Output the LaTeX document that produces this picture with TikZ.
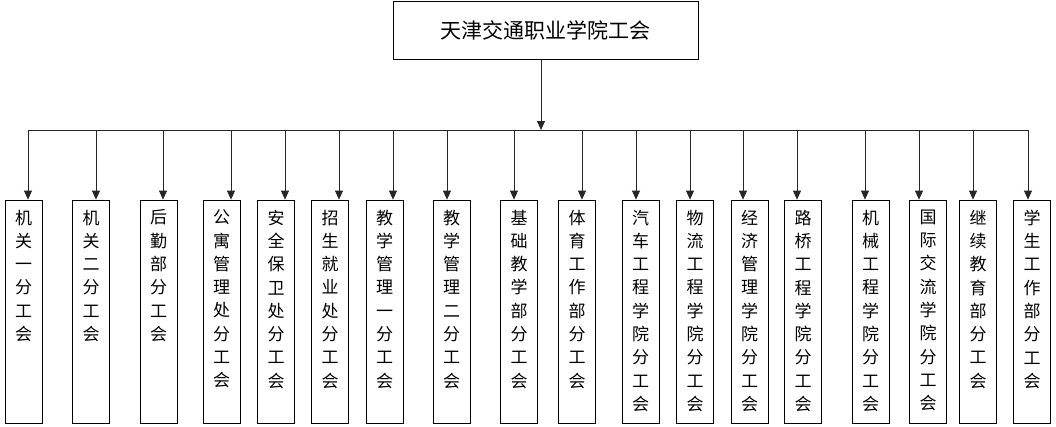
\documentclass[tikz,border=0pt]{standalone}
\usepackage{fontspec}
\setmainfont{Noto Sans CJK SC}
\usetikzlibrary{positioning, arrows.meta}
\tikzset{
  x=1pt, y=-1pt,
  >={Triangle[width=8pt,length=9pt]},
  head/.style={draw, thick, minimum width=305pt, minimum height=58pt, inner sep=0pt,
    font=\fontsize{21}{25}\selectfont},
  unit/.style={draw, thick, minimum width=37pt, minimum height=223pt, inner sep=0pt},
  unit text/.style={anchor=north, align=center, inner sep=0pt, yshift=-10pt,
    font=\fontsize{17}{23.3}\selectfont},
  link/.style={gray!30!black, thick},
}

\begin{document}
\begin{tikzpicture}
		\useasboundingbox (0,0) rectangle (1056,426);

		% top
		\node[head] (top) at (545.5,30) {天津交通职业学院工会};

		% units
		\node[unit, label={[unit text]north:{机\\关\\一\\分\\工\\会}}] (u1) at (23.5,311.5) {};
		\node[unit, label={[unit text]north:{机\\关\\二\\分\\工\\会}}] (u2) at (91,311.5) {};
		\node[unit, label={[unit text]north:{后\\勤\\部\\分\\工\\会}}] (u3) at (158.5,311.5) {};
		\node[unit, label={[unit text]north:{公\\寓\\管\\理\\处\\分\\工\\会}}] (u4) at (221.5,311.5) {};
		\node[unit, label={[unit text]north:{安\\全\\保\\卫\\处\\分\\工\\会}}] (u5) at (276,311.5) {};
		\node[unit, label={[unit text]north:{招\\生\\就\\业\\处\\分\\工\\会}}] (u6) at (330,311.5) {};
		\node[unit, label={[unit text]north:{教\\学\\管\\理\\一\\分\\工\\会}}] (u7) at (384.5,311.5) {};
		\node[unit, label={[unit text]north:{教\\学\\管\\理\\二\\分\\工\\会}}] (u8) at (451.5,311.5) {};
		\node[unit, label={[unit text]north:{基\\础\\教\\学\\部\\分\\工\\会}}] (u9) at (519,311.5) {};
		\node[unit, label={[unit text]north:{体\\育\\工\\作\\部\\分\\工\\会}}] (u10) at (577,311.5) {};
		\node[unit, label={[unit text]north:{汽\\车\\工\\程\\学\\院\\分\\工\\会}}] (u11) at (640.5,311.5) {};
		\node[unit, label={[unit text]north:{物\\流\\工\\程\\学\\院\\分\\工\\会}}] (u12) at (695,311.5) {};
		\node[unit, label={[unit text]north:{经\\济\\管\\理\\学\\院\\分\\工\\会}}] (u13) at (749.5,311.5) {};
		\node[unit, label={[unit text]north:{路\\桥\\工\\程\\学\\院\\分\\工\\会}}] (u14) at (803,311.5) {};
		\node[unit, label={[unit text]north:{机\\械\\工\\程\\学\\院\\分\\工\\会}}] (u15) at (870.5,311.5) {};
		\node[unit, label={[unit text]north:{国\\际\\交\\流\\学\\院\\分\\工\\会}}] (u16) at (928,311.5) {};
		\node[unit, label={[unit text]north:{继\\续\\教\\育\\部\\分\\工\\会}}] (u17) at (978,311.5) {};
		\node[unit, label={[unit text]north:{学\\生\\工\\作\\部\\分\\工\\会}}] (u18) at (1032,311.5) {};

		% connectors
		\foreach \n/\ax in {1/28, 2/96, 3/163, 4/231, 5/285, 6/339, 7/393, 8/447, 9/514,
		    10/582, 11/636, 12/690, 13/743, 14/797, 15/865, 16/919, 17/973, 18/1028}
		  \coordinate (bus\n) at (\ax,130);
		\draw[link] (bus1) -- (bus18);
		\draw[link, ->] ([xshift=-4.5pt]top.south) -- ([xshift=-4.5pt]top.south |- bus1);
		\foreach \n in {1,...,18}
		  \draw[link, ->] (bus\n) -- (bus\n |- u\n.north);
	\end{tikzpicture}
\end{document}
